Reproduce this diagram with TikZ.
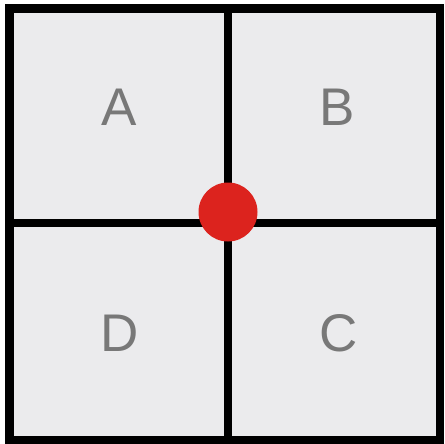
\documentclass[tikz,border=0pt]{standalone}
\usepackage{fontspec}
\setmainfont{Liberation Sans}
\usetikzlibrary{positioning}
\definecolor{cellfill}{RGB}{235,235,237}
\definecolor{labelgray}{RGB}{120,120,120}
\definecolor{dotred}{RGB}{220,35,30}
\tikzset{
  grid/.style={draw=black, line width=8.5pt},
  letter/.style={font=\fontsize{53}{53}\selectfont, text=labelgray, inner sep=0pt, anchor=center},
  pivot/.style={circle, fill=dotred, minimum size=59pt, inner sep=0pt},
}

\begin{document}
\begin{tikzpicture}[x=1pt, y=-1pt]
\useasboundingbox (0,0) rectangle (444,444);
% Feld mit Gitter
\fill[cellfill] (9.5,8.5) rectangle (440,440);
\draw[grid] (228,8.5) -- (228,440);
\draw[grid] (9.5,223) -- (440,223);
\draw[grid] (9.5,8.5) rectangle (440,440);

% Beschriftung der Quadranten
\node[letter] (qa) at (119,107) {A};
\node[letter] (qb) at (337,107) {B};
\node[letter] (qd) at (120,333) {D};
\node[letter] (qc) at (339,333) {C};

\node[pivot] (dot) at (228,212) {};
\end{tikzpicture}
\end{document}
